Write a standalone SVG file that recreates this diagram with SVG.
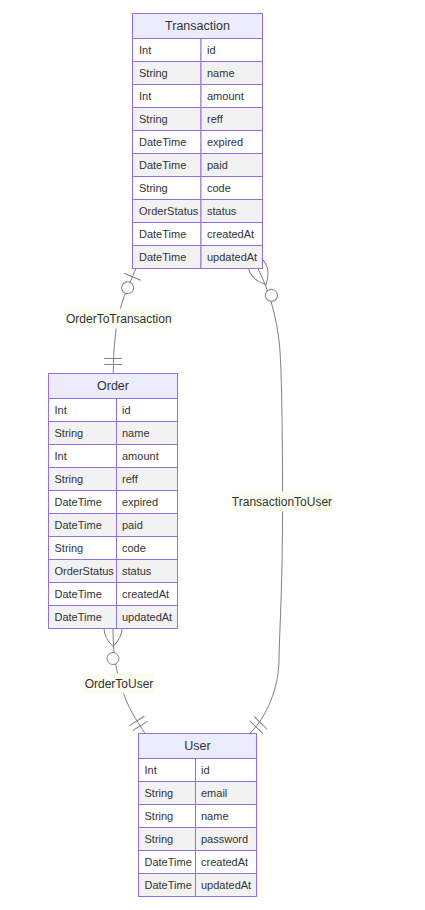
<svg xmlns="http://www.w3.org/2000/svg" width="425" height="910" viewBox="0 0 425 910">
<style>
  .box { stroke: #9370DB; stroke-width: 1; }
  .hdr { fill: #ECECFF; }
  .odd { fill: #ffffff; }
  .even { fill: #f2f2f2; }
  .t { font-family: "Trebuchet MS", "Liberation Sans", Arial, sans-serif; fill: #333; dominant-baseline: central; }
  .name { font-size: 12.5px; text-anchor: middle; }
  .attr { font-size: 11px; }
  .rel { fill: none; stroke: #808080; stroke-width: 1; }
  .lblbg { fill: #f9fdef; }
  .lbl { font-family: "Trebuchet MS", "Liberation Sans", Arial, sans-serif; font-size: 12px; fill: #333; text-anchor: middle; dominant-baseline: central; }
  .mk { fill: none; stroke: #808080; stroke-width: 1; }
  .mkc { fill: #ffffff; stroke: #808080; stroke-width: 1; }
</style>
<defs>
  <marker id="zeroOrOneStart" markerUnits="userSpaceOnUse" refX="0" refY="9" markerWidth="30" markerHeight="18" orient="auto">
    <circle class="mkc" cx="21" cy="9" r="6"/>
    <path class="mk" d="M9,0 L9,18"/>
  </marker>
  <marker id="onlyOneEnd" markerUnits="userSpaceOnUse" refX="18" refY="9" markerWidth="18" markerHeight="18" orient="auto">
    <path class="mk" d="M3,0 L3,18 M9,0 L9,18"/>
  </marker>
  <marker id="zeroOrMoreStart" markerUnits="userSpaceOnUse" refX="18" refY="18" markerWidth="57" markerHeight="36" orient="auto">
    <circle class="mkc" cx="48" cy="18" r="6"/>
    <path class="mk" d="M0,18 Q18,0 36,18 Q18,36 0,18"/>
  </marker>
</defs>

<g id="connectors">
  <path id="rel-OrderToTransaction" class="rel" d="M136,268.5 C128,287 119,305 116,330 C114,345 113.3,360 113.3,373.5" marker-start="url(#zeroOrOneStart)" marker-end="url(#onlyOneEnd)"/>
  <path id="rel-TransactionToUser" class="rel" d="M258,268.5 C269,290.5 277,318 279.5,345 C282,372 282.7,450 282.5,520 C282.3,590 279.5,630 279,660 C278.5,690 266,717 250,733.5" marker-start="url(#zeroOrMoreStart)" marker-end="url(#onlyOneEnd)"/>
  <path id="rel-OrderToUser" class="rel" d="M113,628.5 C113,660 118,680 126,700 C132,714 139,724 145,733.5" marker-start="url(#zeroOrMoreStart)" marker-end="url(#onlyOneEnd)"/>
  <rect class="lblbg" x="65" y="308.5" width="107.5" height="20"/>
  <text class="lbl" x="118.8" y="318.5">OrderToTransaction</text>
  <rect class="lblbg" x="232" y="491.5" width="100" height="20"/>
  <text class="lbl" x="282" y="501.5">TransactionToUser</text>
  <rect class="lblbg" x="84" y="673.5" width="70" height="20"/>
  <text class="lbl" x="119" y="683.5">OrderToUser</text>
</g>

<g id="entity-Transaction">
  <rect class="box hdr" x="132.5" y="13.5" width="130" height="25"/>
  <text class="t name" x="197.5" y="26">Transaction</text>
  <rect class="box odd" x="132.5" y="38.5" width="68.5" height="23"/><rect class="box odd" x="201" y="38.5" width="61.5" height="23"/>
  <text class="t attr" x="139" y="50">Int</text><text class="t attr" x="207" y="50">id</text>
  <rect class="box even" x="132.5" y="61.5" width="68.5" height="23"/><rect class="box even" x="201" y="61.5" width="61.5" height="23"/>
  <text class="t attr" x="139" y="73">String</text><text class="t attr" x="207" y="73">name</text>
  <rect class="box odd" x="132.5" y="84.5" width="68.5" height="23"/><rect class="box odd" x="201" y="84.5" width="61.5" height="23"/>
  <text class="t attr" x="139" y="96">Int</text><text class="t attr" x="207" y="96">amount</text>
  <rect class="box even" x="132.5" y="107.5" width="68.5" height="23"/><rect class="box even" x="201" y="107.5" width="61.5" height="23"/>
  <text class="t attr" x="139" y="119">String</text><text class="t attr" x="207" y="119">reff</text>
  <rect class="box odd" x="132.5" y="130.5" width="68.5" height="23"/><rect class="box odd" x="201" y="130.5" width="61.5" height="23"/>
  <text class="t attr" x="139" y="142">DateTime</text><text class="t attr" x="207" y="142">expired</text>
  <rect class="box even" x="132.5" y="153.5" width="68.5" height="23"/><rect class="box even" x="201" y="153.5" width="61.5" height="23"/>
  <text class="t attr" x="139" y="165">DateTime</text><text class="t attr" x="207" y="165">paid</text>
  <rect class="box odd" x="132.5" y="176.5" width="68.5" height="23"/><rect class="box odd" x="201" y="176.5" width="61.5" height="23"/>
  <text class="t attr" x="139" y="188">String</text><text class="t attr" x="207" y="188">code</text>
  <rect class="box even" x="132.5" y="199.5" width="68.5" height="23"/><rect class="box even" x="201" y="199.5" width="61.5" height="23"/>
  <text class="t attr" x="139" y="211">OrderStatus</text><text class="t attr" x="207" y="211">status</text>
  <rect class="box odd" x="132.5" y="222.5" width="68.5" height="23"/><rect class="box odd" x="201" y="222.5" width="61.5" height="23"/>
  <text class="t attr" x="139" y="234">DateTime</text><text class="t attr" x="207" y="234">createdAt</text>
  <rect class="box even" x="132.5" y="245.5" width="68.5" height="23"/><rect class="box even" x="201" y="245.5" width="61.5" height="23"/>
  <text class="t attr" x="139" y="257">DateTime</text><text class="t attr" x="207" y="257">updatedAt</text>
</g>

<g id="entity-Order">
  <rect class="box hdr" x="48.5" y="373.5" width="129" height="25"/>
  <text class="t name" x="113" y="386">Order</text>
  <rect class="box odd" x="48.5" y="398.5" width="68" height="23"/><rect class="box odd" x="116.5" y="398.5" width="61" height="23"/>
  <text class="t attr" x="54.5" y="410">Int</text><text class="t attr" x="122" y="410">id</text>
  <rect class="box even" x="48.5" y="421.5" width="68" height="23"/><rect class="box even" x="116.5" y="421.5" width="61" height="23"/>
  <text class="t attr" x="54.5" y="433">String</text><text class="t attr" x="122" y="433">name</text>
  <rect class="box odd" x="48.5" y="444.5" width="68" height="23"/><rect class="box odd" x="116.5" y="444.5" width="61" height="23"/>
  <text class="t attr" x="54.5" y="456">Int</text><text class="t attr" x="122" y="456">amount</text>
  <rect class="box even" x="48.5" y="467.5" width="68" height="23"/><rect class="box even" x="116.5" y="467.5" width="61" height="23"/>
  <text class="t attr" x="54.5" y="479">String</text><text class="t attr" x="122" y="479">reff</text>
  <rect class="box odd" x="48.5" y="490.5" width="68" height="23"/><rect class="box odd" x="116.5" y="490.5" width="61" height="23"/>
  <text class="t attr" x="54.5" y="502">DateTime</text><text class="t attr" x="122" y="502">expired</text>
  <rect class="box even" x="48.5" y="513.5" width="68" height="23"/><rect class="box even" x="116.5" y="513.5" width="61" height="23"/>
  <text class="t attr" x="54.5" y="525">DateTime</text><text class="t attr" x="122" y="525">paid</text>
  <rect class="box odd" x="48.5" y="536.5" width="68" height="23"/><rect class="box odd" x="116.5" y="536.5" width="61" height="23"/>
  <text class="t attr" x="54.5" y="548">String</text><text class="t attr" x="122" y="548">code</text>
  <rect class="box even" x="48.5" y="559.5" width="68" height="23"/><rect class="box even" x="116.5" y="559.5" width="61" height="23"/>
  <text class="t attr" x="54.5" y="571">OrderStatus</text><text class="t attr" x="122" y="571">status</text>
  <rect class="box odd" x="48.5" y="582.5" width="68" height="23"/><rect class="box odd" x="116.5" y="582.5" width="61" height="23"/>
  <text class="t attr" x="54.5" y="594">DateTime</text><text class="t attr" x="122" y="594">createdAt</text>
  <rect class="box even" x="48.5" y="605.5" width="68" height="23"/><rect class="box even" x="116.5" y="605.5" width="61" height="23"/>
  <text class="t attr" x="54.5" y="617">DateTime</text><text class="t attr" x="122" y="617">updatedAt</text>
</g>

<g id="entity-User">
  <rect class="box hdr" x="138.5" y="733.5" width="118" height="25"/>
  <text class="t name" x="197.5" y="746">User</text>
  <rect class="box odd" x="138.5" y="758.5" width="57" height="23"/><rect class="box odd" x="195.5" y="758.5" width="61" height="23"/>
  <text class="t attr" x="144.5" y="770">Int</text><text class="t attr" x="201" y="770">id</text>
  <rect class="box even" x="138.5" y="781.5" width="57" height="23"/><rect class="box even" x="195.5" y="781.5" width="61" height="23"/>
  <text class="t attr" x="144.5" y="793">String</text><text class="t attr" x="201" y="793">email</text>
  <rect class="box odd" x="138.5" y="804.5" width="57" height="23"/><rect class="box odd" x="195.5" y="804.5" width="61" height="23"/>
  <text class="t attr" x="144.5" y="816">String</text><text class="t attr" x="201" y="816">name</text>
  <rect class="box even" x="138.5" y="827.5" width="57" height="23"/><rect class="box even" x="195.5" y="827.5" width="61" height="23"/>
  <text class="t attr" x="144.5" y="839">String</text><text class="t attr" x="201" y="839">password</text>
  <rect class="box odd" x="138.5" y="850.5" width="57" height="23"/><rect class="box odd" x="195.5" y="850.5" width="61" height="23"/>
  <text class="t attr" x="144.5" y="862">DateTime</text><text class="t attr" x="201" y="862">createdAt</text>
  <rect class="box even" x="138.5" y="873.5" width="57" height="23"/><rect class="box even" x="195.5" y="873.5" width="61" height="23"/>
  <text class="t attr" x="144.5" y="885">DateTime</text><text class="t attr" x="201" y="885">updatedAt</text>
</g>
</svg>
